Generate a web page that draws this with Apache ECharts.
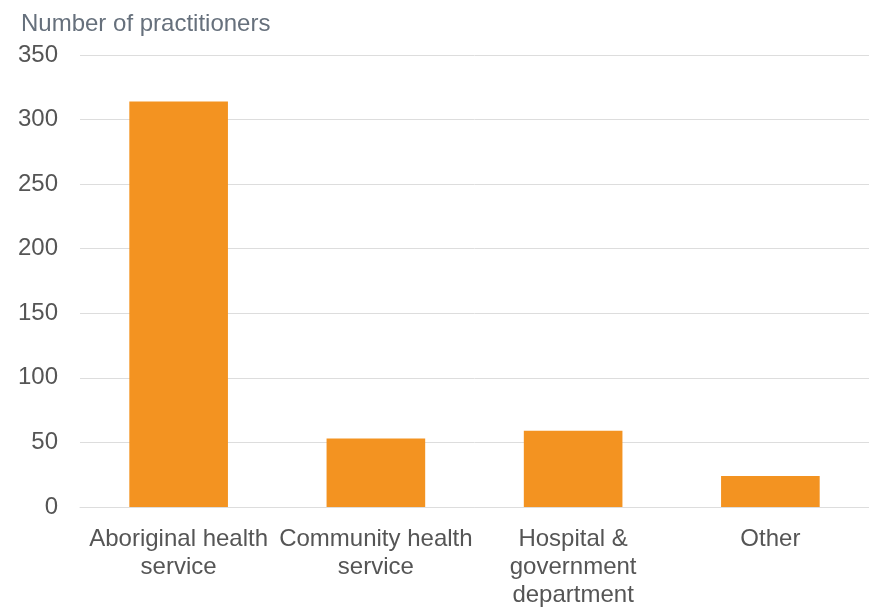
<!DOCTYPE html>
<html>
<head>
<meta charset="utf-8">
<style>
html,body{margin:0;padding:0;background:#fff;}
#c{width:869px;height:609px;}
</style>
<script src="https://cdn.jsdelivr.net/npm/echarts@6/dist/echarts.min.js"></script>
</head>
<body>
<div id="c"></div>
<script>
var categories = ['Aboriginal health\nservice', 'Community health\nservice', 'Hospital &\ngovernment\ndepartment', 'Other'];
var practitioners = [314, 53, 59, 24];
var yTicks = [0, 50, 100, 150, 200, 250, 300, 350];

var chart = echarts.init(document.getElementById('c'), null, {renderer: 'canvas'});
chart.setOption({
  animation: false,
  textStyle: {fontFamily: 'Liberation Sans, Arial, sans-serif'},
  title: {
    text: 'Number of practitioners',
    left: 16, top: 7,
    textStyle: {fontSize: 24, fontWeight: 'normal', color: '#66707c', fontFamily: 'Liberation Sans, Arial, sans-serif'}
  },
  grid: {left: 80, right: -21, top: 55, bottom: 97, containLabel: false},
  xAxis: {
    type: 'category',
    data: categories,
    axisLine: {show: true, lineStyle: {color: '#dddddd', width: 1}},
    axisTick: {show: false},
    axisLabel: {fontSize: 24, color: '#555555', lineHeight: 28, margin: 18, interval: 0}
  },
  yAxis: {
    type: 'value',
    min: yTicks[0], max: yTicks[yTicks.length - 1], interval: 50,
    axisLine: {show: false},
    axisTick: {show: false},
    splitLine: {lineStyle: {color: '#dddddd', width: 1}},
    axisLabel: {fontSize: 24, color: '#555555', margin: 22}
  },
  series: [{
    type: 'bar',
    data: practitioners,
    barWidth: '50%',
    itemStyle: {color: '#F39321'}
  }]
});
</script>
</body>
</html>
